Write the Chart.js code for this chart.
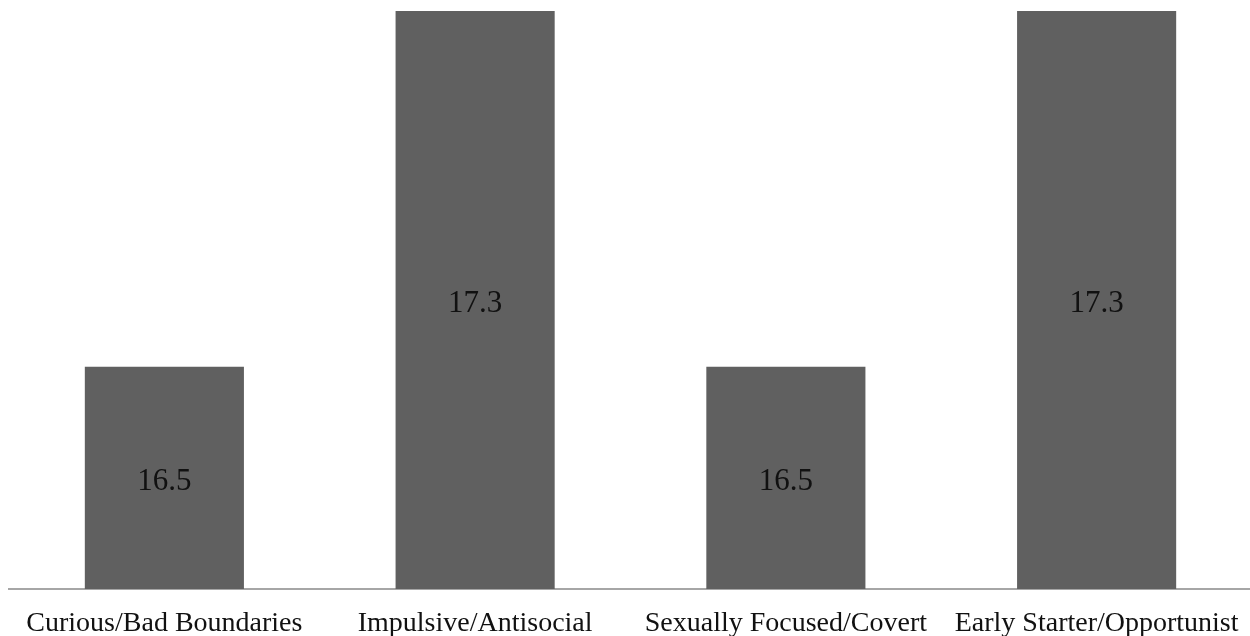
<!DOCTYPE html>
<html>
<head>
<meta charset="utf-8">
<script src="https://cdn.jsdelivr.net/npm/chart.js@4/dist/chart.umd.min.js"></script>
<style>
  html, body { margin: 0; padding: 0; background: #ffffff; overflow: hidden; }
  #wrap { position: relative; width: 1252px; height: 636px; }
</style>
</head>
<body>
<div id="wrap"><canvas id="chart"></canvas></div>
<script>
// Offender typology groups and the mean value for each
const categories = ["Curious/Bad Boundaries", "Impulsive/Antisocial", "Sexually Focused/Covert", "Early Starter/Opportunist"];
const values = [16.5, 17.3, 16.5, 17.3];
const axisMin = 16;
const axisMax = 17.3;

// Writes each bar's value centred in the visible part of the bar
const barValueLabels = {
  id: "barValueLabels",
  afterDatasetsDraw(chart) {
    const ctx = chart.ctx;
    const meta = chart.getDatasetMeta(0);
    const floor = chart.scales.y.getPixelForValue(axisMin);
    const size = 31;
    ctx.save();
    ctx.font = size + "px \"Liberation Serif\", serif";
    ctx.fillStyle = "#111111";
    ctx.textAlign = "center";
    ctx.textBaseline = "alphabetic";
    meta.data.forEach((bar, i) => {
      const p = bar.getProps(["x", "y"], true);
      const mid = (p.y + floor) / 2;
      // baseline sits half a digit height below the midpoint
      ctx.fillText(values[i].toFixed(1), p.x, mid + size * 0.4);
    });
    ctx.restore();
  }
};

new Chart(document.getElementById("chart"), {
  type: "bar",
  data: {
    labels: categories,
    datasets: [{
      data: values,
      backgroundColor: "#606060",
      borderWidth: 0,
      barPercentage: 1,
      categoryPercentage: 0.512
    }]
  },
  options: {
    responsive: true,
    maintainAspectRatio: false,
    animation: false,
    layout: { padding: { top: 11, left: 9, right: 0, bottom: 0 } },
    plugins: {
      legend: { display: false },
      tooltip: { enabled: false }
    },
    scales: {
      x: {
        grid: { display: false },
        border: { display: true, color: "#a6a6a6", width: 2 },
        afterFit(scale) { scale.height = 47; },
        ticks: {
          color: "#111111",
          padding: 10,
          maxRotation: 0,
          autoSkip: false,
          font: { family: "'Liberation Serif', 'Times New Roman', serif", size: 28 }
        }
      },
      y: {
        display: false,
        min: axisMin,
        max: axisMax
      }
    }
  },
  plugins: [barValueLabels]
});
</script>
</body>
</html>
